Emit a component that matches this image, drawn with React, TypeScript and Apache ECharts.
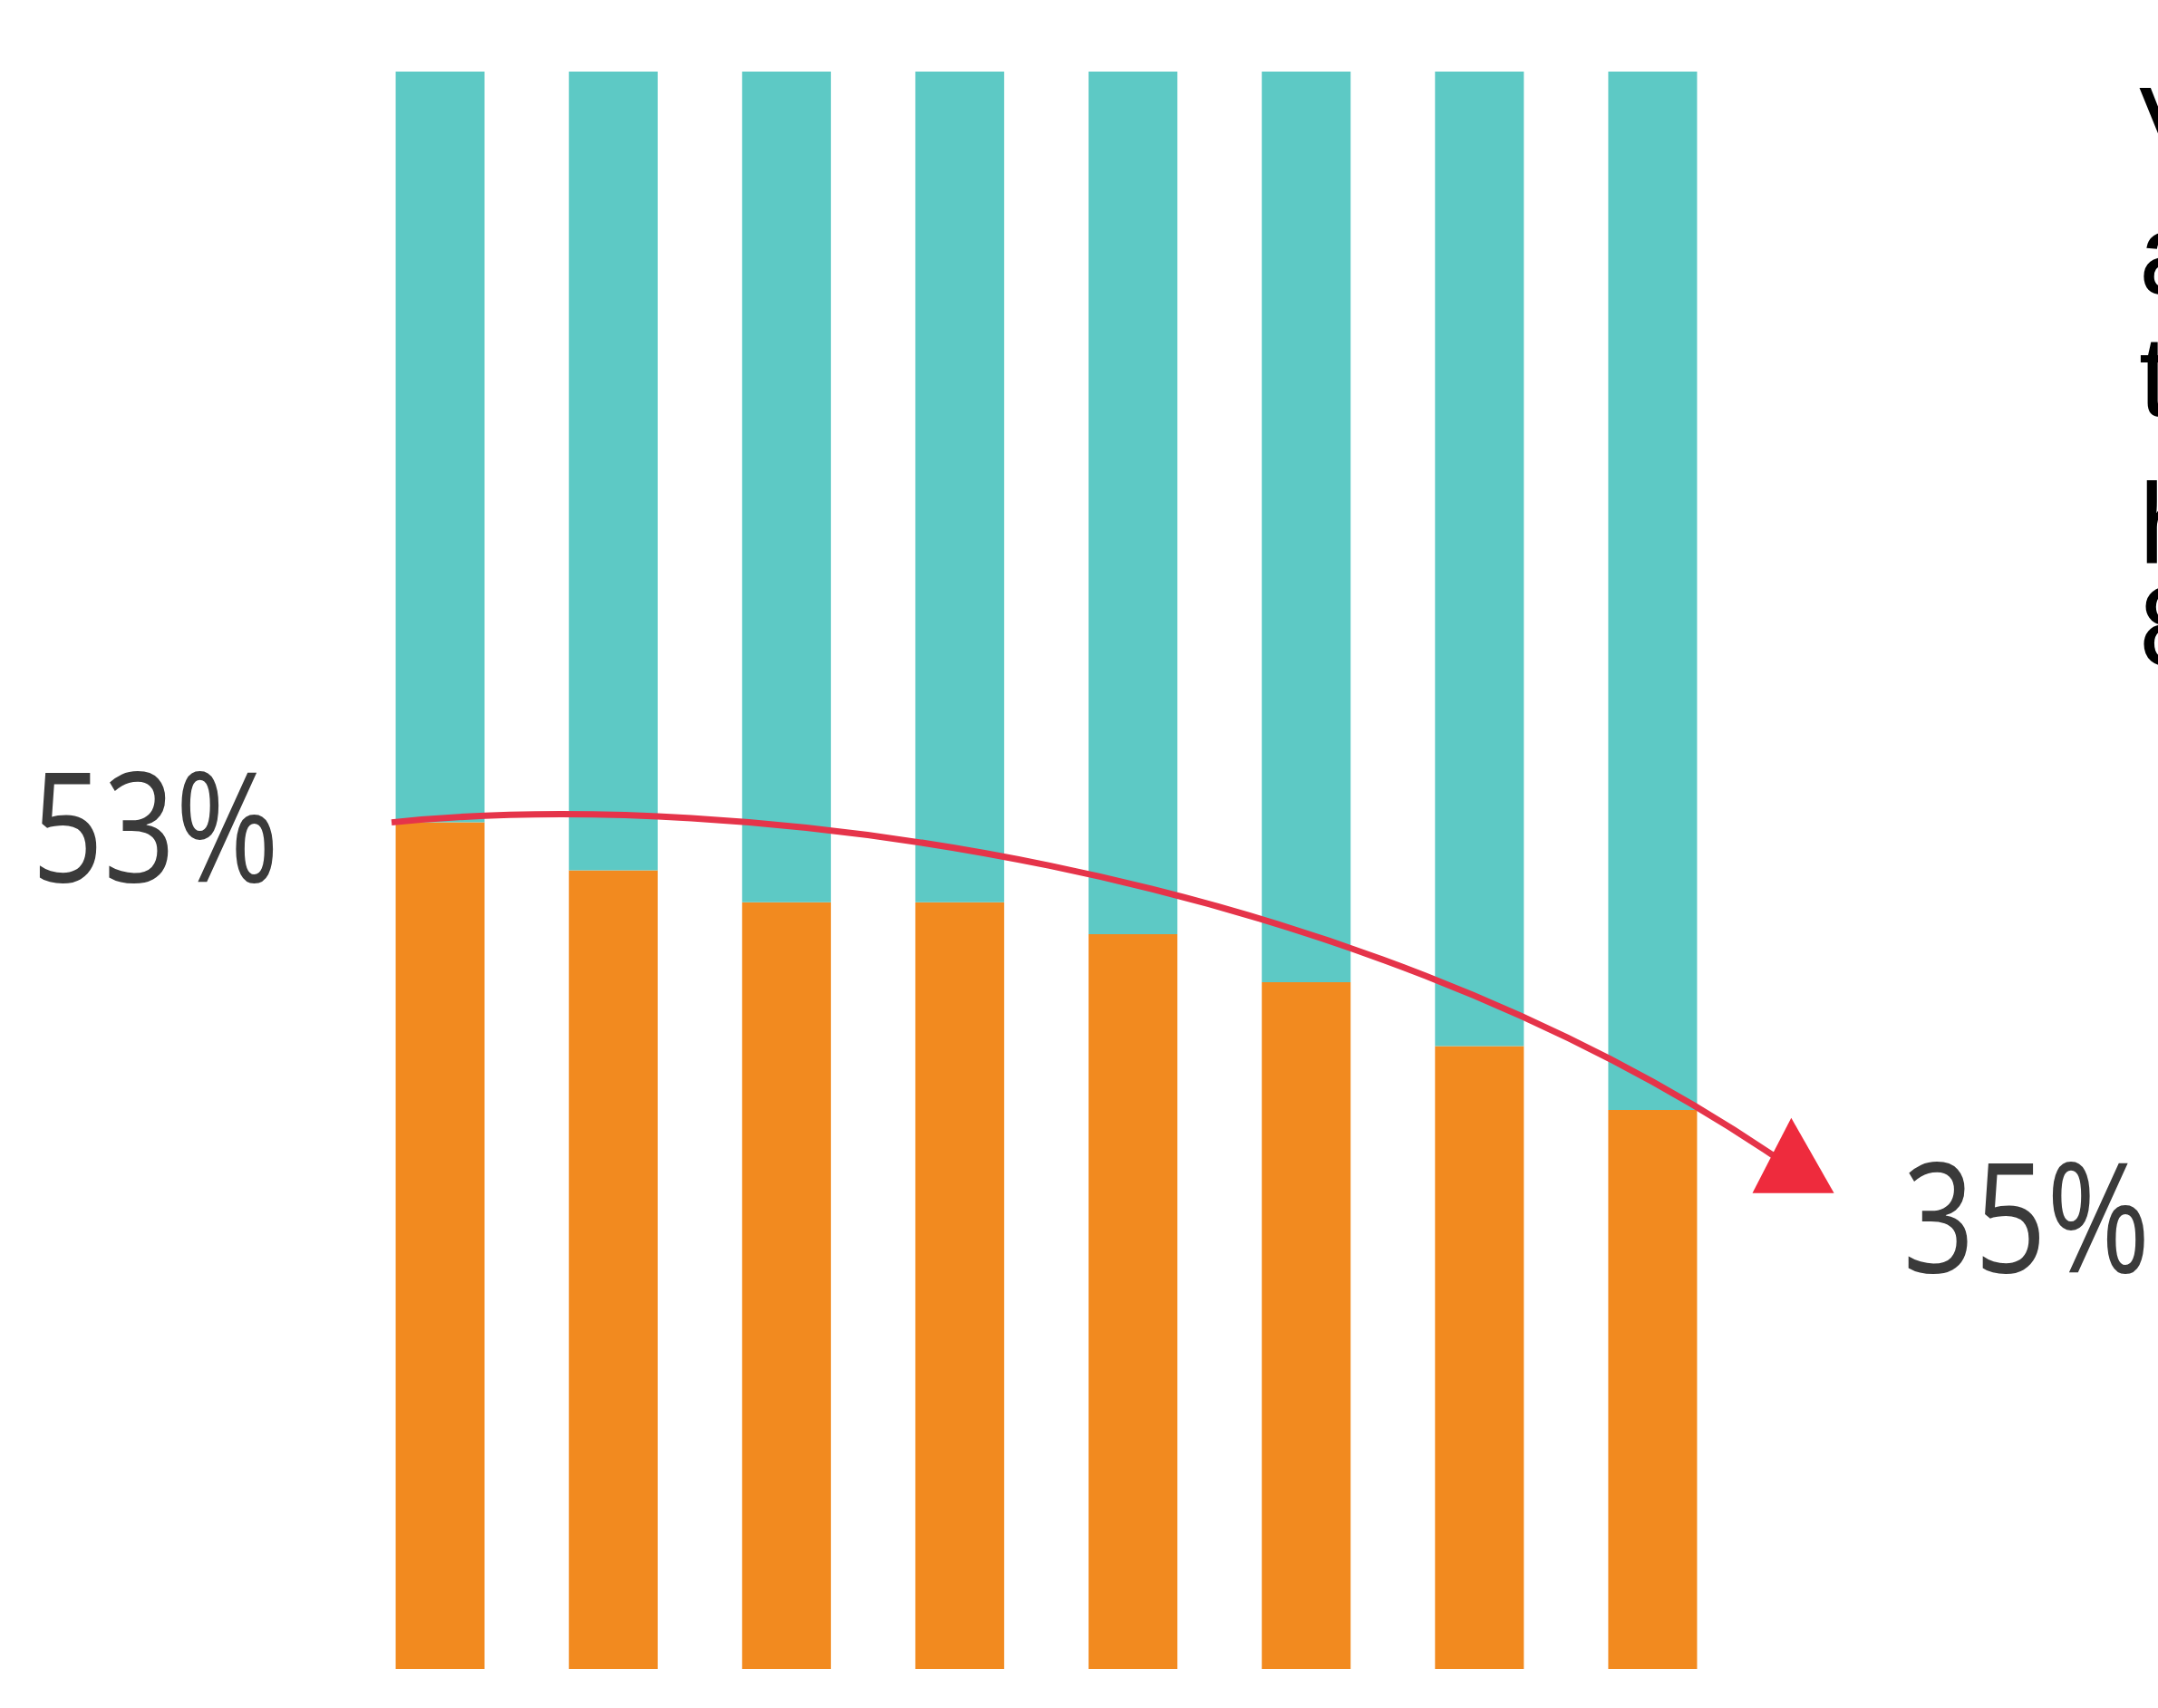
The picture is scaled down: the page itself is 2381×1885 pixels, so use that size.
import React, { useEffect, useRef } from "react";
import * as echarts from "echarts";

// Eight periods, each split into two shares that add up to 100%.
const categories = ["1", "2", "3", "4", "5", "6", "7", "8"];
const lowerShare = [53, 50, 48, 48, 46, 43, 39, 35];
const upperShare = [47, 50, 52, 52, 54, 57, 61, 65];

// Trend arrow, in [category position, percent] units.
const trendCurve = [
  [-0.28, 53],
  [1.7, 55.2],
  [5.2, 50.6],
  [7.73, 31.9],
];
const arrowHead = [
  [7.8, 34.5],
  [7.576, 29.8],
  [8.047, 29.8],
];

// Texts running off the right edge.
const sideLines = ["V", "a", "t", "h", "8"];
const sideBaselines = [184, 324, 459, 622, 735];

const ORANGE = "#F28A1F";
const TEAL = "#5DC9C5";
const RED = "#E5344A";
const LABEL = "#3a3a3a";

export default function App() {
  const ref = useRef<HTMLDivElement>(null);

  useEffect(() => {
    document.body.style.margin = "0";
    const chart = echarts.init(ref.current!, undefined, { renderer: "svg" });

    const sideSize = 126;
    const graphic = sideLines.map((t, i) => ({
      type: "text",
      x: 2360,
      y: sideBaselines[i] - Math.round(sideSize * 0.8465),
      style: {
        text: t,
        fontFamily: "Liberation Sans",
        fontSize: sideSize,
        fontStyle: "normal",
        fill: "#000000",
        align: "left",
        verticalAlign: "top",
      },
    }));

    const labelStyle = {
      fontFamily: "Open Sans",
      fontSize: 169,
      fontStyle: "normal",
      fontWeight: "normal",
      fill: LABEL,
      verticalAlign: "middle",
    };

    chart.setOption({
      animation: false,
      backgroundColor: "#ffffff",
      grid: { left: 390, right: 462, top: 79, bottom: 43, containLabel: false },
      xAxis: { type: "category", data: categories, show: false },
      yAxis: { type: "value", min: 0, max: 100, show: false },
      series: [
        {
          type: "bar",
          stack: "share",
          data: lowerShare,
          barWidth: 98,
          itemStyle: { color: ORANGE },
          silent: true,
        },
        {
          type: "bar",
          stack: "share",
          data: upperShare,
          barWidth: 98,
          itemStyle: { color: TEAL },
          silent: true,
        },
        {
          type: "custom",
          data: [[0, 0]],
          clip: false,
          z: 10,
          silent: true,
          renderItem: (_params: any, api: any) => {
            const base = api.coord([0, 0]);
            const next = api.coord([1, 0]);
            const step = next[0] - base[0];
            const pt = (p: number[]) => [base[0] + p[0] * step, api.coord([0, p[1]])[1]];
            const [p0, p1, p2, p3] = trendCurve.map(pt);
            const head = arrowHead.map(pt);
            const tip = head[2];
            return {
              type: "group",
              children: [
                {
                  type: "bezierCurve",
                  shape: {
                    x1: p0[0],
                    y1: p0[1],
                    cpx1: p1[0],
                    cpy1: p1[1],
                    cpx2: p2[0],
                    cpy2: p2[1],
                    x2: p3[0],
                    y2: p3[1],
                  },
                  style: { stroke: RED, lineWidth: 7, fill: null },
                },
                {
                  type: "polygon",
                  shape: { points: head },
                  style: { fill: "#EE2B3D" },
                },
                {
                  type: "text",
                  x: p0[0] - 124,
                  y: p0[1],
                  scaleX: 0.82,
                  style: {
                    ...labelStyle,
                    text: `${lowerShare[0]}%`,
                    align: "right",
                  },
                },
                {
                  type: "text",
                  x: tip[0] + 76,
                  y: tip[1] + 22,
                  scaleX: 0.82,
                  style: {
                    ...labelStyle,
                    text: `${lowerShare[lowerShare.length - 1]}%`,
                    align: "left",
                  },
                },
              ],
            };
          },
        },
      ],
      graphic,
    });

    return () => chart.dispose();
  }, []);

  return <div ref={ref} style={{ width: 2381, height: 1885 }} />;
}
